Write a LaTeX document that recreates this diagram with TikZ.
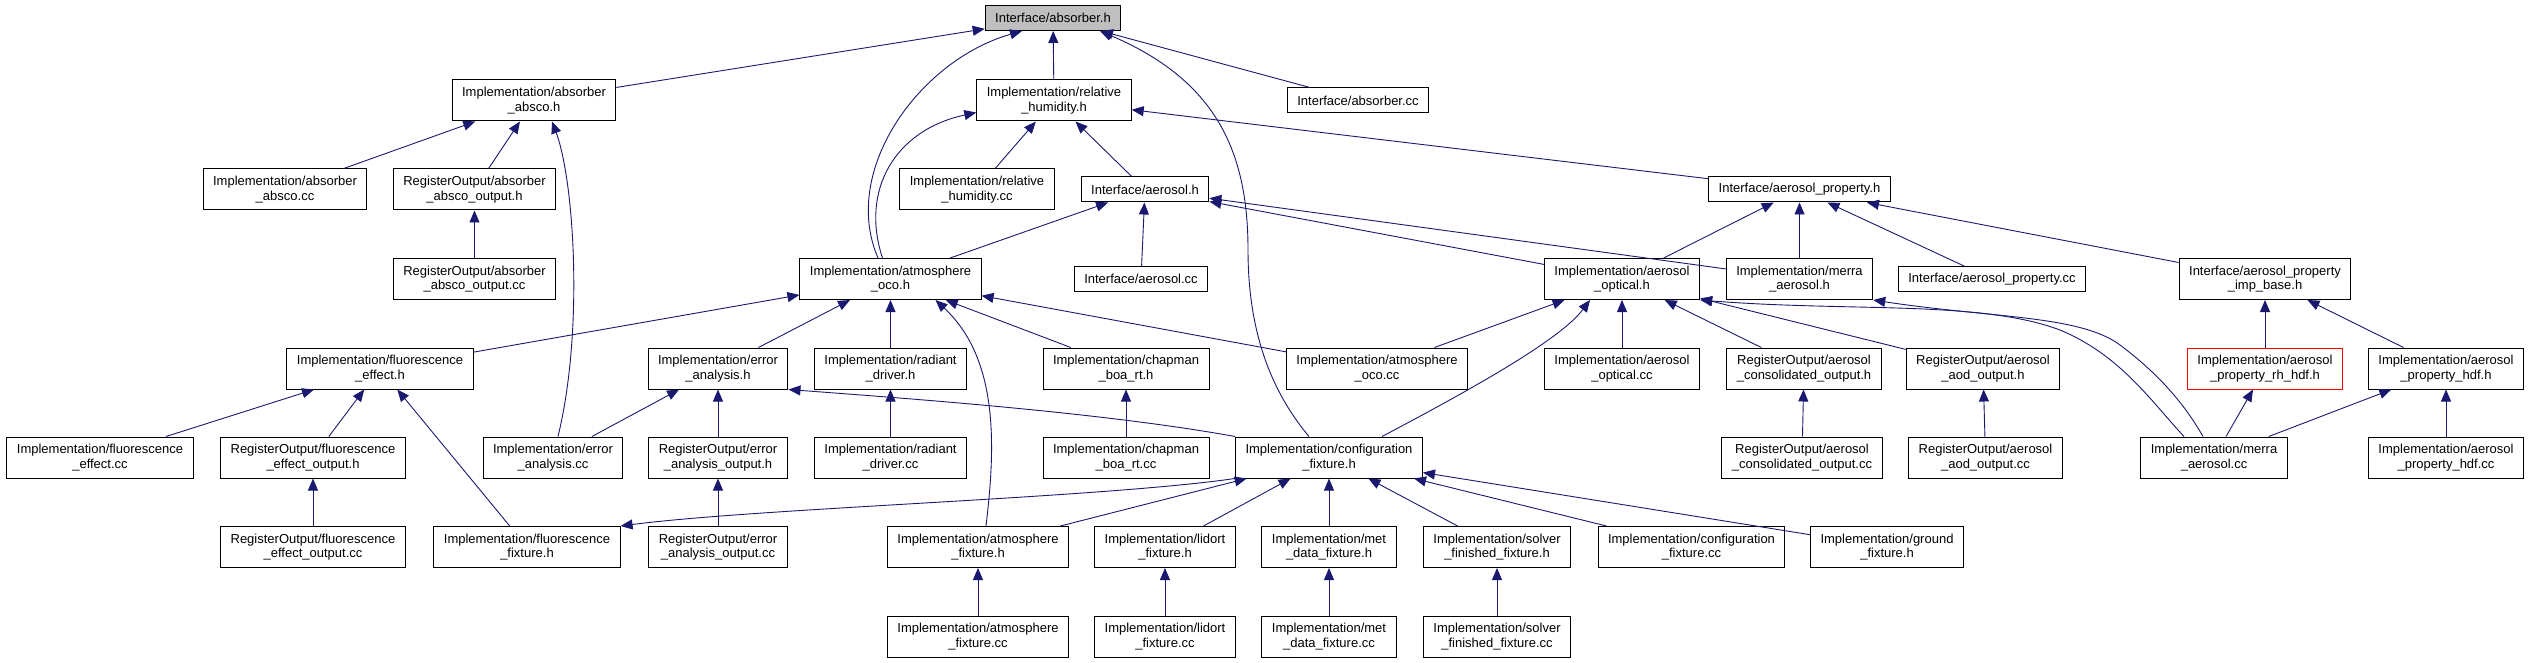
\documentclass[tikz,border=0pt]{standalone}
\usepackage{fontspec}
\setmainfont{Liberation Sans}
\usetikzlibrary{arrows.meta}
\definecolor{dxedge}{RGB}{25,25,112}
\definecolor{dxgray}{RGB}{191,191,191}
\definecolor{dxred}{RGB}{255,0,0}
\tikzset{
  file/.style={draw=black,fill=white,line width=1pt,align=center,
    font=\fontsize{13pt}{14.5pt}\selectfont,inner xsep=10pt,inner ysep=2pt,
    minimum height=41pt},
  file1/.style={file,minimum height=25pt},
  dep/.style={draw=dxedge,line width=0.9pt,{Triangle[length=12pt,width=10pt]}-}
}

\begin{document}
\begin{tikzpicture}[x=1pt,y=-1pt]
  \useasboundingbox (0,0) rectangle (2532,663);
  % Rank 0: the header itself
  \node[file1,fill=dxgray] (absorber) at (1053,18) {Interface/absorber.h};
  % Rank 1
  \node[file] (absco) at (534,100.5) {Implementation/absorber\\\_absco.h};
  \node[file] (relhum) at (1054,100.5) {Implementation/relative\\\_humidity.h};
  \node[file1] (absorbercc) at (1358,100.5) {Interface/absorber.cc};
  % Rank 2
  \node[file] (abscocc) at (285,189.5) {Implementation/absorber\\\_absco.cc};
  \node[file] (abscoout) at (474.5,189.5) {RegisterOutput/absorber\\\_absco\_output.h};
  \node[file] (relhumcc) at (977,189.5) {Implementation/relative\\\_humidity.cc};
  \node[file1] (aerosol) at (1145,189.5) {Interface/aerosol.h};
  \node[file1] (aerprop) at (1799.5,189.5) {Interface/aerosol\_property.h};
  % Rank 3
  \node[file] (abscooutcc) at (474.5,279) {RegisterOutput/absorber\\\_absco\_output.cc};
  \node[file] (atmoco) at (890.5,279) {Implementation/atmosphere\\\_oco.h};
  \node[file1] (aerosolcc) at (1141,279) {Interface/aerosol.cc};
  \node[file] (aeropt) at (1622,279) {Implementation/aerosol\\\_optical.h};
  \node[file] (merrah) at (1799.5,279) {Implementation/merra\\\_aerosol.h};
  \node[file1] (aerpropcc) at (1992,279) {Interface/aerosol\_property.cc};
  \node[file] (impbase) at (2265,279) {Interface/aerosol\_property\\\_imp\_base.h};
  % Rank 4
  \node[file] (fluor) at (380,368.5) {Implementation/fluorescence\\\_effect.h};
  \node[file] (err) at (718,368.5) {Implementation/error\\\_analysis.h};
  \node[file] (radiant) at (890.5,368.5) {Implementation/radiant\\\_driver.h};
  \node[file] (chapman) at (1126,368.5) {Implementation/chapman\\\_boa\_rt.h};
  \node[file] (atmococc) at (1377,368.5) {Implementation/atmosphere\\\_oco.cc};
  \node[file] (aeroptcc) at (1622,368.5) {Implementation/aerosol\\\_optical.cc};
  \node[file] (consout) at (1804,368.5) {RegisterOutput/aerosol\\\_consolidated\_output.h};
  \node[file] (aodout) at (1983,368.5) {RegisterOutput/aerosol\\\_aod\_output.h};
  \node[file,draw=dxred] (rhhdf) at (2265,368.5) {Implementation/aerosol\\\_property\_rh\_hdf.h};
  \node[file] (hdf) at (2446,368.5) {Implementation/aerosol\\\_property\_hdf.h};
  % Rank 5
  \node[file] (fluorcc) at (100,457.5) {Implementation/fluorescence\\\_effect.cc};
  \node[file] (fluorout) at (313,457.5) {RegisterOutput/fluorescence\\\_effect\_output.h};
  \node[file] (errcc) at (553,457.5) {Implementation/error\\\_analysis.cc};
  \node[file] (errout) at (718,457.5) {RegisterOutput/error\\\_analysis\_output.h};
  \node[file] (radiantcc) at (890.5,457.5) {Implementation/radiant\\\_driver.cc};
  \node[file] (chapmancc) at (1126,457.5) {Implementation/chapman\\\_boa\_rt.cc};
  \node[file] (config) at (1329,457.5) {Implementation/configuration\\\_fixture.h};
  \node[file] (consoutcc) at (1802,457.5) {RegisterOutput/aerosol\\\_consolidated\_output.cc};
  \node[file] (aodoutcc) at (1985.5,457.5) {RegisterOutput/aerosol\\\_aod\_output.cc};
  \node[file] (merracc) at (2214,457.5) {Implementation/merra\\\_aerosol.cc};
  \node[file] (hdfcc) at (2446,457.5) {Implementation/aerosol\\\_property\_hdf.cc};
  % Rank 6
  \node[file] (fluoroutcc) at (313,547) {RegisterOutput/fluorescence\\\_effect\_output.cc};
  \node[file] (fluorfix) at (527,547) {Implementation/fluorescence\\\_fixture.h};
  \node[file] (erroutcc) at (718,547) {RegisterOutput/error\\\_analysis\_output.cc};
  \node[file] (atmfix) at (978,547) {Implementation/atmosphere\\\_fixture.h};
  \node[file] (lidfix) at (1165,547) {Implementation/lidort\\\_fixture.h};
  \node[file] (metfix) at (1329,547) {Implementation/met\\\_data\_fixture.h};
  \node[file] (solfix) at (1497,547) {Implementation/solver\\\_finished\_fixture.h};
  \node[file] (configcc) at (1691.5,547) {Implementation/configuration\\\_fixture.cc};
  \node[file] (ground) at (1887,547) {Implementation/ground\\\_fixture.h};
  % Rank 7
  \node[file] (atmfixcc) at (978,636.5) {Implementation/atmosphere\\\_fixture.cc};
  \node[file] (lidfixcc) at (1165,636.5) {Implementation/lidort\\\_fixture.cc};
  \node[file] (metfixcc) at (1329,636.5) {Implementation/met\\\_data\_fixture.cc};
  \node[file] (solfixcc) at (1497,636.5) {Implementation/solver\\\_finished\_fixture.cc};

  % Straight includes
  \draw[dep] (absorber) -- (absco);
  \draw[dep] (absorber) -- (relhum);
  \draw[dep] (absorber) -- (absorbercc);
  \draw[dep] (absco) -- (abscocc);
  \draw[dep] (absco) -- (abscoout);
  \draw[dep] (abscoout) -- (abscooutcc);
  \draw[dep] (relhum) -- (relhumcc);
  \draw[dep] (relhum) -- (aerosol);
  \draw[dep] (relhum) -- (aerprop);
  \draw[dep] (aerosol) -- (atmoco);
  \draw[dep] (aerosol) -- (aerosolcc);
  \draw[dep] (aerosol) -- (aeropt);
  \draw[dep] (aerosol) -- (merrah);
  \draw[dep] (aerprop) -- (aeropt);
  \draw[dep] (aerprop) -- (merrah);
  \draw[dep] (aerprop) -- (aerpropcc);
  \draw[dep] (aerprop) -- (impbase);
  \draw[dep] (atmoco) -- (fluor);
  \draw[dep] (atmoco) -- (err);
  \draw[dep] (atmoco) -- (radiant);
  \draw[dep] (atmoco) -- (chapman);
  \draw[dep] (atmoco) -- (atmococc);
  \draw[dep] (aeropt) -- (atmococc);
  \draw[dep] (aeropt) -- (aeroptcc);
  \draw[dep] (aeropt) -- (consout);
  \draw[dep] (aeropt) -- (aodout);
  \draw[dep] (impbase) -- (rhhdf);
  \draw[dep] (impbase) -- (hdf);
  \draw[dep] (rhhdf) -- (merracc);
  \draw[dep] (hdf) -- (merracc);
  \draw[dep] (hdf) -- (hdfcc);
  \draw[dep] (consout) -- (consoutcc);
  \draw[dep] (aodout) -- (aodoutcc);
  \draw[dep] (fluor) -- (fluorcc);
  \draw[dep] (fluor) -- (fluorout);
  \draw[dep] (fluor) -- (fluorfix);
  \draw[dep] (fluorout) -- (fluoroutcc);
  \draw[dep] (err) -- (errcc);
  \draw[dep] (err) -- (errout);
  \draw[dep] (errout) -- (erroutcc);
  \draw[dep] (radiant) -- (radiantcc);
  \draw[dep] (chapman) -- (chapmancc);
  \draw[dep] (config) -- (atmfix);
  \draw[dep] (config) -- (lidfix);
  \draw[dep] (config) -- (metfix);
  \draw[dep] (config) -- (solfix);
  \draw[dep] (config) -- (configcc);
  \draw[dep] (config) -- (ground);
  \draw[dep] (atmfix) -- (atmfixcc);
  \draw[dep] (lidfix) -- (lidfixcc);
  \draw[dep] (metfix) -- (metfixcc);
  \draw[dep] (solfix) -- (solfixcc);

  % Curved includes
  \draw[dep] ([xshift=-31pt]absorber.south) .. controls (920,60) and (840,170) .. ([xshift=-12.5pt]atmoco.north);
  \draw[dep] ([xshift=47pt]absorber.south) .. controls (1215,80) and (1248,150) .. (1248,250)
    .. controls (1248,330) and (1270,390) .. ([xshift=-20pt]config.north);
  \draw[dep] ([yshift=-12pt]relhum.west) .. controls (895,130) and (860,190) .. ([xshift=-8pt]atmoco.north);
  \draw[dep] ([xshift=18pt]absco.south) .. controls (574,180) and (584,330) .. ([xshift=5pt]errcc.north);
  \draw[dep] ([xshift=45pt]atmoco.south) .. controls (1000,360) and (995,450) .. ([xshift=8pt]atmfix.north);
  \draw[dep] ([xshift=-32pt]aeropt.south) .. controls (1560,340) and (1470,390) .. ([xshift=53pt]config.north);
  \draw[dep] (aeropt.south east) .. controls (1850,312) and (1980,300) .. (2060,330)
    .. controls (2120,355) and (2150,400) .. ([xshift=-30pt]merracc.north);
  \draw[dep] (merrah.south east) .. controls (1990,318) and (2080,315) .. (2120,345)
    .. controls (2160,375) and (2185,405) .. ([xshift=-11pt]merracc.north);
  \draw[dep] (err.south east) .. controls (900,398) and (1100,412) .. (config.north west);
  \draw[dep] (fluorfix.north east) .. controls (760,508) and (1100,498) .. (config.south west);
\end{tikzpicture}
\end{document}
